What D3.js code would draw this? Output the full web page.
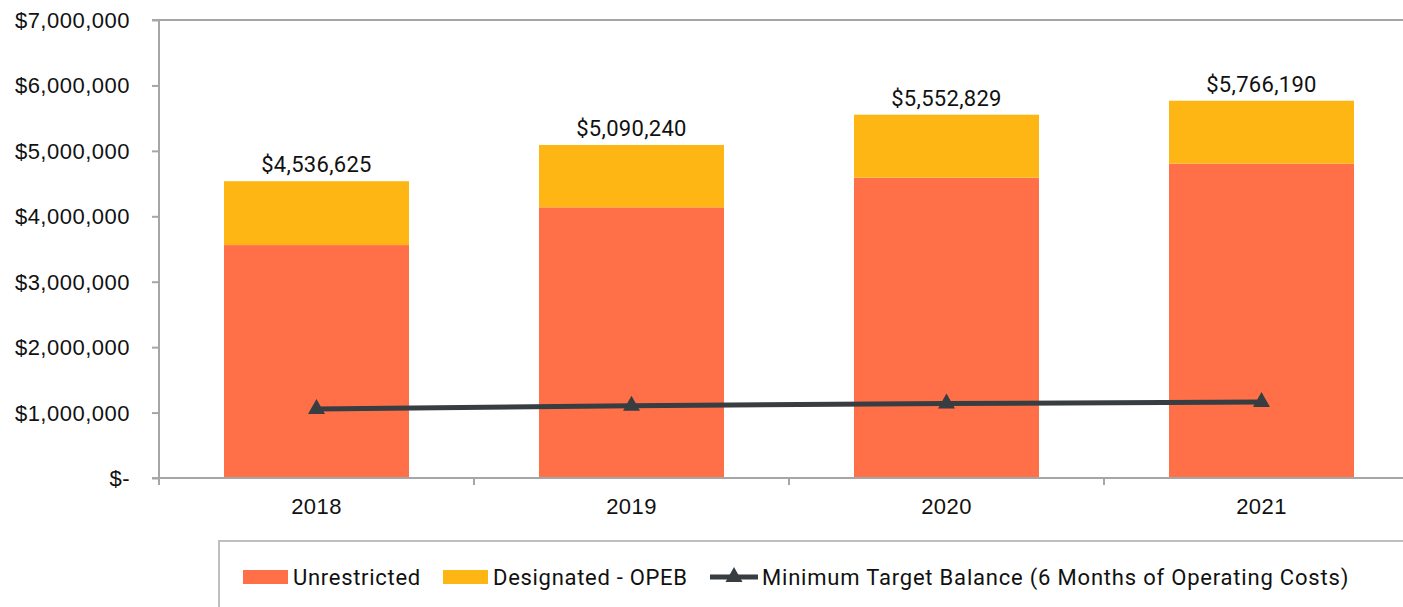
<!DOCTYPE html>
<html>
<head>
<meta charset="utf-8">
<script src="https://cdn.jsdelivr.net/npm/d3@7"></script>
<style>
  body { margin: 0; background: #fff; }
  svg { display: block; font-family: Roboto, "Noto Sans", sans-serif; }
</style>
</head>
<body>
<svg id="chart" width="1403" height="607"></svg>
<script>
var years = ["2018", "2019", "2020", "2021"],
    unrestricted = [3560000, 4137000, 4590000, 4804000],
    designated = [976625, 953240, 962829, 962190],
    minTarget = [1055000, 1105000, 1138000, 1162000],
    yTicks = [0, 1000000, 2000000, 3000000, 4000000, 5000000, 6000000, 7000000];

var colUnr = "#ff7049", colDes = "#feb615", colLine = "#373d41", colAxis = "#a6a6a6";

var svg = d3.select("#chart");
var plotL = 159, plotT = 20, plotB = 478, plotR = 1419;

var x = d3.scaleBand().domain(years).range([plotL, plotR]).paddingInner(130/315).paddingOuter(65/315);
var xb = d3.scaleBand().domain(years).range([plotL, plotR]);
var y = d3.scaleLinear().domain([0, 7000000]).range([plotB, plotT]);

var money = d3.format(",");
function yfmt(v) { return v === 0 ? "$-" : "$" + money(v); }

// excel-ish triangle marker, a bit wider than tall, centred on the point
var triMark = {
  draw: function(ctx, size) {
    var w = 8.5, h = 15;
    ctx.moveTo(0, -h * 2/3);
    ctx.lineTo(w, h / 3);
    ctx.lineTo(-w, h / 3);
    ctx.closePath();
  }
};
var tri = d3.symbol().type(triMark);

// top border
svg.append("line").attr("x1", plotL - 7).attr("x2", 1403).attr("y1", y(7000000)).attr("y2", y(7000000))
  .style("stroke", colAxis).style("stroke-width", 2);

// bars
var g = svg.append("g");
years.forEach(function(yr, i) {
  var tot = unrestricted[i] + designated[i];
  g.append("rect").attr("x", x(yr)).attr("width", x.bandwidth())
    .attr("y", y(unrestricted[i])).attr("height", y(0) - y(unrestricted[i]))
    .style("fill", colUnr);
  g.append("rect").attr("x", x(yr)).attr("width", x.bandwidth())
    .attr("y", y(tot)).attr("height", y(unrestricted[i]) - y(tot))
    .style("fill", colDes);
  g.append("text").attr("x", x(yr) + x.bandwidth()/2).attr("y", y(tot) - 9)
    .attr("text-anchor", "middle").style("font-size", "22px").style("letter-spacing", "0.3px")
    .style("fill", "#111").text("$" + money(tot));
});

// y axis
var yAxis = svg.append("g").attr("transform", "translate(" + plotL + ",0)")
  .call(d3.axisLeft(y).tickValues(yTicks).tickFormat(yfmt).tickSize(7).tickPadding(22));
yAxis.select(".domain").remove();
yAxis.append("line").attr("x1", 0).attr("x2", 0).attr("y1", plotT).attr("y2", plotB + 7)
  .style("stroke", colAxis).style("stroke-width", 2);
yAxis.selectAll(".tick line").style("stroke", colAxis).style("stroke-width", 2);
yAxis.selectAll(".tick text").style("font-size", "22px").style("letter-spacing", "0.5px")
  .style("fill", "#111").attr("dy", "0.34em");

// x axis
var xAxis = svg.append("g").attr("transform", "translate(0," + plotB + ")")
  .call(d3.axisBottom(x).tickSize(0).tickPadding(20));
xAxis.select(".domain").remove();
xAxis.append("line").attr("x1", plotL - 7).attr("x2", 1403).attr("y1", 0).attr("y2", 0)
  .style("stroke", colAxis).style("stroke-width", 2);
xAxis.selectAll(".bnd").data(years.slice(1)).enter().append("line")
  .attr("x1", function(d) { return xb(d); }).attr("x2", function(d) { return xb(d); })
  .attr("y1", 0).attr("y2", 7).style("stroke", colAxis).style("stroke-width", 2);
xAxis.selectAll(".tick text").style("font-size", "22px").style("letter-spacing", "0.4px")
  .style("fill", "#111").attr("dy", "0.71em");

// line
var line = d3.line().x(function(d, i) { return x(years[i]) + x.bandwidth()/2; }).y(function(d) { return y(d); });
svg.append("path").datum(minTarget).attr("d", line)
  .style("fill", "none").style("stroke", colLine).style("stroke-width", 5);
svg.selectAll(".mk").data(minTarget).enter().append("path")
  .attr("transform", function(d, i) { return "translate(" + (x(years[i]) + x.bandwidth()/2) + "," + y(d) + ")"; })
  .attr("d", tri).style("fill", colLine);

// legend
var lg = svg.append("g");
lg.append("rect").attr("x", 219).attr("y", 541).attr("width", 1300).attr("height", 200)
  .style("fill", "none").style("stroke", "#bfbfbf").style("stroke-width", 2);
var ly = 577;
var items = [
  { label: "Unrestricted", type: "rect", color: colUnr, x: 243, ls: 0.7 },
  { label: "Designated - OPEB", type: "rect", color: colDes, x: 443, ls: 0.7 },
  { label: "Minimum Target Balance (6 Months of Operating Costs)", type: "line", color: colLine, x: 710, ls: 0.8 }
];
items.forEach(function(it) {
  if (it.type === "rect") {
    lg.append("rect").attr("x", it.x).attr("y", ly - 7).attr("width", 45).attr("height", 14).style("fill", it.color);
    lg.append("text").attr("x", it.x + 50).attr("y", ly).attr("dy", "0.35em")
      .style("font-size", "22px").style("letter-spacing", it.ls + "px").style("fill", "#111").text(it.label);
  } else {
    lg.append("line").attr("x1", it.x).attr("x2", it.x + 48).attr("y1", ly).attr("y2", ly)
      .style("stroke", it.color).style("stroke-width", 5);
    lg.append("path").attr("transform", "translate(" + (it.x + 24) + "," + ly + ")")
      .attr("d", tri).style("fill", it.color);
    lg.append("text").attr("x", it.x + 52).attr("y", ly).attr("dy", "0.35em")
      .style("font-size", "22px").style("letter-spacing", it.ls + "px").style("fill", "#111").text(it.label);
  }
});
</script>
</body>
</html>
